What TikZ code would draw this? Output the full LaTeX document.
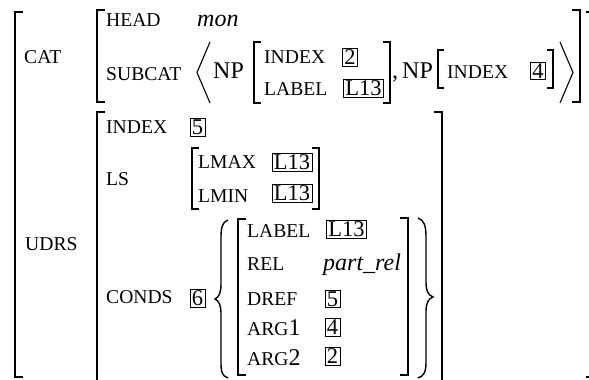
\documentclass[tikz,border=0pt]{standalone}
\usepackage{fontspec}
\setmainfont{Liberation Serif}
\newcommand{\brL}[4][8]{\draw[brk] ({#2+#1},#3) -- (#2,#3) -- (#2,#4) -- ({#2+#1},#4);}
\newcommand{\brR}[4][8]{\draw[brk] ({#2-#1},#3) -- (#2,#3) -- (#2,#4) -- ({#2-#1},#4);}
\begin{document}
\begin{tikzpicture}[x=1pt,y=-1pt,
  feat/.style={anchor=base west, inner sep=0pt, font=\fontsize{19.6}{20}\selectfont},
  val/.style={anchor=base west, inner sep=0pt, font=\fontsize{24}{24}\selectfont},
  ival/.style={anchor=base west, inner sep=0pt, font=\fontsize{24}{24}\selectfont\itshape},
  tag/.style={draw, line width=0.7pt, inner xsep=1.8pt, inner ysep=1.3pt, anchor=center, font=\fontsize{22.5}{23}\selectfont},
  brk/.style={line width=1.1pt}]
\useasboundingbox (0,0) rectangle (589,380);
% outer matrix
\brL{15}{12}{377}
\draw[brk] (586,12) -- (590,12);
\draw[brk] (586,377) -- (590,377);
\node[feat] (cat) at (24,63) {CAT};
\node[feat] (udrs) at (25,250) {UDRS};
% CAT value
\brL{97}{10}{102}
\brR{580}{10}{102}
\node[feat] (head) at (106,27) {HEAD};
\node[ival] (mon) at (197,27) {mon};
\node[feat] (subcat) at (106,80) {SUBCAT};
\draw[brk] (210,42) -- (197,72.5) -- (210,103);
\draw[brk] (560,42) -- (573,72.5) -- (560,103);
\node[val] (np1) at (213,78) {NP};
\brL[7]{254}{42}{103}
\brR[7]{390}{42}{103}
\node[feat] (index1) at (264,63) {INDEX};
\node[tag] (t2a) at (350,57.5) {2};
\node[feat] (label1) at (264,95) {LABEL};
\node[tag] (l13a) at (363.5,88.5) {L13};
\node[val] (comma) at (392,78) {,};
\node[val] (np2) at (402,78) {NP};
\brL[6]{438}{50}{88}
\brR[6]{553}{50}{88}
\node[feat] (index2) at (447,78) {INDEX};
\node[tag] (t4a) at (538,71) {4};
% UDRS value
\brL{97}{112}{382}
\brR{442}{112}{382}
\node[feat] (index3) at (106,133) {INDEX};
\node[tag] (t5a) at (197.5,127.5) {5};
\node[feat] (ls) at (106,185) {LS};
\brL[7]{192}{148}{209}
\brR[7]{319}{148}{209}
\node[feat] (lmax) at (198,168) {LMAX};
\node[tag] (l13b) at (292,162) {L13};
\node[feat] (lmin) at (198,202) {LMIN};
\node[tag] (l13c) at (292,193) {L13};
\node[feat] (conds) at (106,303) {CONDS};
\node[tag] (t6) at (197.5,298.5) {6};
% set braces
\draw[line width=1.4pt] (228,220) .. controls (222,222) and (221,228) .. (221,238) -- (221,284)
  .. controls (221,293) and (219,297) .. (215,299)
  .. controls (219,301) and (221,305) .. (221,314) -- (221,362)
  .. controls (221,372) and (222,376) .. (228,378);
\draw[line width=1.4pt] (418,218) .. controls (424,220) and (426,226) .. (426,236) -- (426,282)
  .. controls (426,291) and (428,295) .. (433,297)
  .. controls (428,299) and (426,303) .. (426,312) -- (426,362)
  .. controls (426,372) and (424,376) .. (418,378);
\brL{238}{219}{375}
\brR{408}{218}{375}
\node[feat] (label2) at (247,237) {LABEL};
\node[tag] (l13d) at (346.5,229) {L13};
\node[feat] (rel) at (247,270) {REL};
\node[ival] (partrel) at (323,270) {part\_rel};
\node[feat] (dref) at (247,305) {DREF};
\node[tag] (t5b) at (332.5,299) {5};
\node[feat] (arg1) at (247,335) {ARG\fontsize{24}{24}\selectfont 1};
\node[tag] (t4b) at (332.5,327.5) {4};
\node[feat] (arg2) at (247,365) {ARG\fontsize{24}{24}\selectfont 2};
\node[tag] (t2b) at (332.5,356.5) {2};
\end{tikzpicture}
\end{document}
